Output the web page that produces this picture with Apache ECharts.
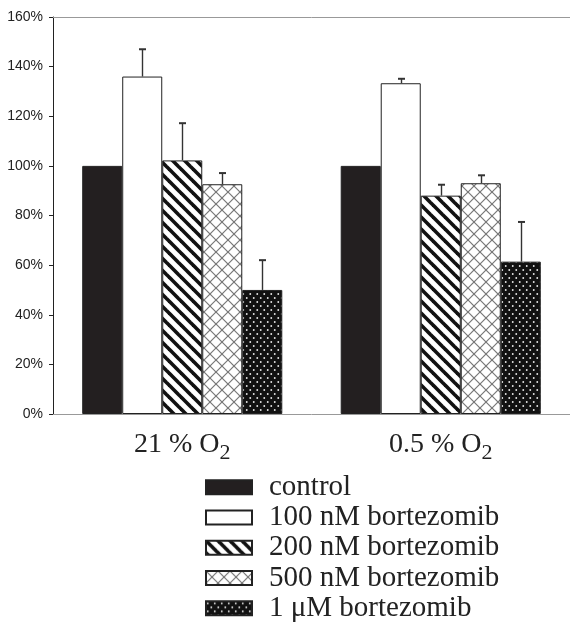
<!DOCTYPE html>
<html>
<head>
<meta charset="utf-8">
<script src="https://cdn.jsdelivr.net/npm/echarts@6/dist/echarts.min.js"></script>
<style>html,body{margin:0;padding:0;background:#fff}#c{width:570px;height:622px}</style>
</head>
<body>
<div id="c"></div>
<script>
// ---- data ----
var categories = ['21 % O₂', '0.5 % O₂'];
var seriesNames = ['control', '100 nM bortezomib', '200 nM bortezomib', '500 nM bortezomib', '1 μM bortezomib'];
var control = [100, 100];
var nM100 = [136, 133.3];
var nM200 = [102.2, 88];
var nM500 = [92.6, 93];
var uM1 = [50, 61.4];
var err_control = [0, 0];
var err_nM100 = [11, 1.8];
var err_nM200 = [15, 4.4];
var err_nM500 = [4.5, 3.2];
var err_uM1 = [12, 16];
var yTicks = [0, 20, 40, 60, 80, 100, 120, 140, 160];

var values = [control, nM100, nM200, nM500, uM1];
var errors = [err_control, err_nM100, err_nM200, err_nM500, err_uM1];

// ---- patterns ----
function tile(w, h, draw) {
  var c = document.createElement('canvas');
  c.width = w; c.height = h;
  var g = c.getContext('2d');
  draw(g, w, h);
  return { image: c, repeat: 'repeat' };
}
var stripes = tile(12, 12, function (g, w, h) {
  g.fillStyle = '#fff'; g.fillRect(0, 0, w, h);
  g.strokeStyle = '#111'; g.lineWidth = 3.6;
  for (var k = -1; k <= 1; k++) {
    g.beginPath(); g.moveTo(-2, -2 + k * 12); g.lineTo(14, 14 + k * 12); g.stroke();
  }
});
var cross = tile(12, 12, function (g, w, h) {
  g.fillStyle = '#fff'; g.fillRect(0, 0, w, h);
  g.strokeStyle = '#777'; g.lineWidth = 1.2;
  for (var k = -1; k <= 1; k++) {
    g.beginPath(); g.moveTo(-2, -2 + k * 12); g.lineTo(14, 14 + k * 12); g.stroke();
    g.beginPath(); g.moveTo(-2, 14 + k * 12); g.lineTo(14, -2 + k * 12); g.stroke();
  }
});
var dots = tile(7, 8, function (g, w, h) {
  g.fillStyle = '#111'; g.fillRect(0, 0, w, h);
  g.fillStyle = '#e8e8e8';
  g.beginPath(); g.arc(1.75, 2, 0.95, 0, Math.PI * 2); g.fill();
  g.beginPath(); g.arc(5.25, 6, 0.95, 0, Math.PI * 2); g.fill();
});
var fills = ['#231f20', '#ffffff', stripes, cross, dots];

var GAP = 0.226;
var serif = "'Liberation Serif','Times New Roman',serif";

var series = seriesNames.map(function (n, i) {
  return {
    name: n, type: 'bar', data: values[i],
    barGap: '0%', barCategoryGap: (GAP * 100) + '%',
    itemStyle: { color: fills[i], borderColor: '#222', borderWidth: 1 },
    emphasis: { disabled: true }
  };
});

var errData = [];
for (var i = 0; i < seriesNames.length; i++) {
  for (var c = 0; c < categories.length; c++) {
    errData.push([c, values[i][c], errors[i][c], i]);
  }
}
series.push({
  type: 'custom', silent: true, z: 5,
  data: errData,
  encode: { x: 0, y: 1 },
  renderItem: function (params, api) {
    var cat = api.value(0), mean = api.value(1), err = api.value(2), si = api.value(3);
    if (!err) return null;
    var band = api.size([1, 0])[0];
    var bw = band * (1 - GAP) / seriesNames.length;
    var base = api.coord([cat, mean]);
    var top = api.coord([cat, mean + err]);
    var x = Math.round(base[0] + (si - (seriesNames.length - 1) / 2) * bw) + 0.5;
    var st = { stroke: '#333', lineWidth: 1.4 };
    return {
      type: 'group',
      children: [
        { type: 'line', shape: { x1: x, y1: base[1], x2: x, y2: top[1] }, style: st },
        { type: 'line', shape: { x1: x - 3.5, y1: top[1], x2: x + 3.5, y2: top[1] }, style: { stroke: '#333', lineWidth: 2 } }
      ]
    };
  }
});

var chart = echarts.init(document.getElementById('c'), null, { renderer: 'canvas' });
chart.setOption({
  animation: false,
  backgroundColor: '#fff',
  grid: { left: 53, right: 0, top: 17, bottom: 208 },
  legend: {
    data: seriesNames,
    orient: 'vertical',
    left: 205, top: 472, height: 160, padding: 0,
    itemWidth: 46, itemHeight: 14, itemGap: 0,
    icon: 'rect',
    selectedMode: false,
    textStyle: { fontFamily: serif, fontSize: 29, color: '#222', lineHeight: 30.3, padding: [0, 0, 0, 12] }
  },
  xAxis: [{
    type: 'category', data: categories,
    axisLine: { lineStyle: { color: '#999', width: 1 } },
    axisTick: { show: false },
    axisLabel: {
      margin: 17,
      formatter: function (v) { return '{a|' + v.replace('₂', '') + '}{s|2}'; },
      rich: {
        a: { fontFamily: serif, fontSize: 28, color: '#222', lineHeight: 28, verticalAlign: 'top' },
        s: { fontFamily: serif, fontSize: 22, color: '#222', lineHeight: 22, padding: [11, 0, 0, 0], verticalAlign: 'top' }
      }
    }
  }, {
    type: 'category', data: categories, position: 'top',
    axisLine: { show: true, lineStyle: { color: '#999', width: 1 } },
    axisTick: { show: false }, axisLabel: { show: false }
  }],
  yAxis: {
    type: 'value', min: yTicks[0], max: yTicks[yTicks.length - 1], interval: yTicks[1] - yTicks[0],
    axisLine: { show: true, lineStyle: { color: '#222', width: 1 } },
    axisTick: { show: true, length: 4, lineStyle: { color: '#222' } },
    splitLine: { show: false },
    axisLabel: { formatter: '{value}%', margin: 10, fontFamily: "'Liberation Sans',Arial,sans-serif", fontSize: 14, color: '#222' }
  },
  series: series
});
</script>
</body>
</html>
